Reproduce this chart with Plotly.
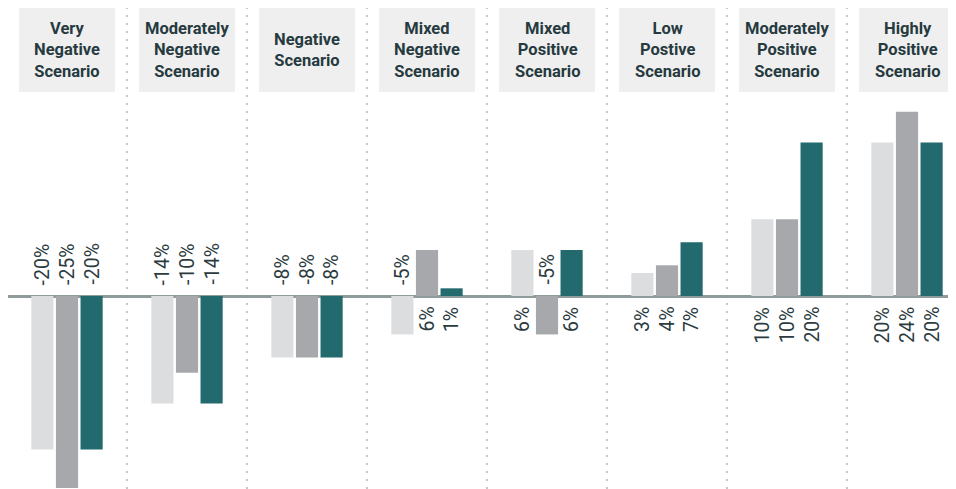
import plotly.graph_objects as go

scenarios = [
    "Very<br>Negative<br>Scenario",
    "Moderately<br>Negative<br>Scenario",
    "Negative<br>Scenario",
    "Mixed<br>Negative<br>Scenario",
    "Mixed<br>Positive<br>Scenario",
    "Low<br>Postive<br>Scenario",
    "Moderately<br>Positive<br>Scenario",
    "Highly<br>Positive<br>Scenario",
]
series_a = [-20, -14, -8, -5, 6, 3, 10, 20]
series_b = [-25, -10, -8, 6, -5, 4, 10, 24]
series_c = [-20, -14, -8, 1, 6, 7, 20, 20]

colors = ["#dcdddf", "#a7a8ac", "#236a6f"]
series = [series_a, series_b, series_c]

W, H = 956, 489
BARGAP = 0.385
BARGROUPGAP = 0.1
PX = 120.0  # pixels per category

fig = go.Figure()
xs = list(range(len(scenarios)))
for s, c in zip(series, colors):
    fig.add_trace(go.Bar(x=xs, y=s, marker=dict(color=c, line=dict(width=0)),
                         hoverinfo="skip", showlegend=False))

slot = (1 - BARGAP) / 3
annotations = []
shapes = []
label_font = dict(family="Roboto, Open Sans, sans-serif", size=19.5, color="#2b3b40", weight=400)
head_font = dict(family="Roboto, sans-serif", size=16.5, color="#263a40", weight=700)
box_y0 = (H - 84) / H
box_y1 = 1.0
for i in xs:
    for j, s in enumerate(series):
        v = s[i]
        xpos = i + (j - 1) * slot
        if v < 0:
            annotations.append(dict(x=xpos, y=0, xref="x", yref="y", text=f"{v}%",
                                    textangle=-90, showarrow=False, yanchor="bottom",
                                    xanchor="center", yshift=9, font=label_font))
        else:
            annotations.append(dict(x=xpos, y=0, xref="x", yref="y", text=f"{v}%",
                                    textangle=-90, showarrow=False, yanchor="top",
                                    xanchor="center", yshift=-9, font=label_font))
    # header box
    shapes.append(dict(type="rect", xref="x", yref="paper", x0=i - 0.4, x1=i + 0.4,
                       y0=box_y0, y1=box_y1, fillcolor="#efefef", line=dict(width=0), layer="below"))
    annotations.append(dict(x=i, y=(box_y0 + box_y1) / 2, xref="x", yref="paper",
                            text=scenarios[i], showarrow=False, xanchor="center",
                            yanchor="middle", font=head_font))
    # dotted separator
    shapes.append(dict(type="line", xref="x", yref="paper", x0=i - 0.5, x1=i - 0.5,
                       y0=0, y1=1, line=dict(color="#c4c6c8", width=2, dash="2px,6px"), layer="below"))

SCALE = 7.68  # px per percent
ZERO = 288    # zero line pixel row within the figure
fig.update_layout(
    width=W, height=H,
    margin=dict(l=0, r=0, t=0, b=0),
    paper_bgcolor="white", plot_bgcolor="white",
    barmode="group", bargap=BARGAP, bargroupgap=BARGROUPGAP,
    xaxis=dict(range=[-0.5 + 1 / PX, -0.5 + (W + 1) / PX], showgrid=False, showticklabels=False,
               zeroline=False, showline=False, ticks=""),
    yaxis=dict(range=[-(H - ZERO) / SCALE, ZERO / SCALE], showgrid=False, showticklabels=False,
               zeroline=True, zerolinecolor="#8f9a9c", zerolinewidth=2.5, showline=False, ticks=""),
    annotations=annotations, shapes=shapes,
)
fig.write_html("out.html")
